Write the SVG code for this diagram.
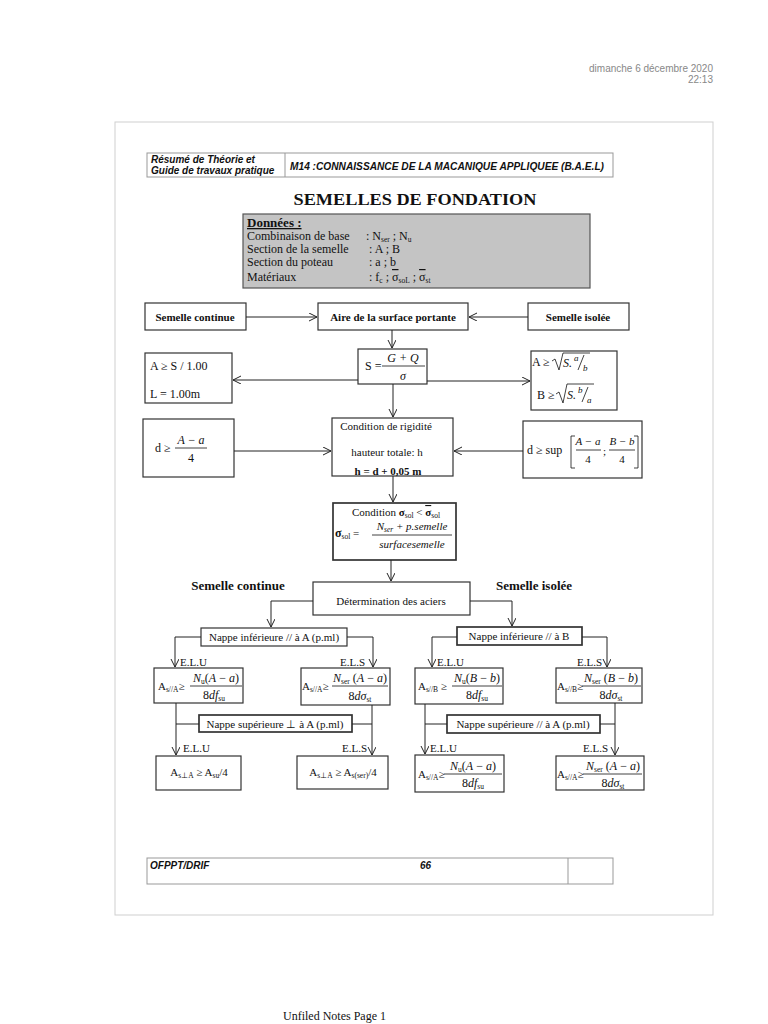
<svg xmlns="http://www.w3.org/2000/svg" width="768" height="1024" viewBox="0 0 768 1024">
<style>
text{font-family:"Liberation Serif","Times New Roman",serif;fill:#111;font-size:11px}
.s{font-family:"Liberation Sans",Arial,sans-serif}
.b{font-weight:bold}
.i{font-style:italic}
.m{text-anchor:middle}
.f12{font-size:12px}
.sb{font-size:7.5px}
.box{fill:#fff;stroke:#333;stroke-width:1.2}
.bx2{fill:#fff;stroke:#333;stroke-width:1.7}
.c{fill:none;stroke:#222;stroke-width:1}
.fl{stroke:#111;stroke-width:0.8}
.lbl{font-size:11px}
</style>
<defs>
<marker id="ah" markerWidth="10" markerHeight="10" refX="8" refY="4" orient="auto" markerUnits="userSpaceOnUse"><path d="M0,0 L8,4 L0,8" fill="none" stroke="#222" stroke-width="1"/></marker>
</defs>
<rect x="0" y="0" width="768" height="1024" fill="#fff"/>

<g id="datetime">
<text class="s" x="713" y="72" style="fill:#888;font-size:10px" text-anchor="end">dimanche 6 décembre  2020</text>
<text class="s" x="713" y="83" style="fill:#888;font-size:10px" text-anchor="end">22:13</text>
</g>

<rect id="page" x="115" y="122" width="598" height="793" fill="none" stroke="#cfcfcf" stroke-width="1"/>

<g id="header">
<rect x="147" y="153" width="466" height="24" fill="#fff" stroke="#999" stroke-width="1"/>
<line x1="285" y1="153" x2="285" y2="177" stroke="#999" stroke-width="1"/>
<text class="s b i" x="151" y="163" style="font-size:10px">Résumé de Théorie et</text>
<text class="s b i" x="151" y="174" style="font-size:10px">Guide de travaux pratique</text>
<text class="s b i" x="290" y="170" style="font-size:10px" textLength="314" lengthAdjust="spacingAndGlyphs">M14 :CONNAISSANCE DE LA MACANIQUE APPLIQUEE (B.A.E.L)</text>
</g>

<text id="title" class="b m" x="415" y="205" style="font-size:17px" textLength="243" lengthAdjust="spacingAndGlyphs">SEMELLES DE FONDATION</text>

<g id="donnees">
<rect x="243" y="214" width="347" height="74" fill="#c4c4c4" stroke="#555" stroke-width="1.2"/>
<text class="b" x="247" y="227" style="font-size:13px;text-decoration:underline">Données :</text>
<text class="f12" x="247" y="240">Combinaison de base</text>
<text class="f12" x="366" y="240">: N<tspan class="sb" dy="1.5">ser</tspan><tspan dy="-1.5"> ; N</tspan><tspan class="sb" dy="1.5">u</tspan></text>
<text class="f12" x="247" y="253">Section de la semelle</text>
<text class="f12" x="369" y="253">:  A ; B</text>
<text class="f12" x="247" y="266">Section du poteau</text>
<text class="f12" x="369" y="266">:  a ; b</text>
<text class="f12" x="247" y="281">Matériaux</text>
<text class="f12" x="369" y="281">:  f<tspan class="sb" dy="1.5">c</tspan><tspan dy="-1.5"> ;  </tspan><tspan style="text-decoration:overline">σ</tspan><tspan class="sb" dy="1.5">soL</tspan><tspan dy="-1.5"> ; </tspan><tspan style="text-decoration:overline">σ</tspan><tspan class="sb" dy="1.5">st</tspan></text>
</g>

<g id="semelle-continue-top">
<rect class="box" x="145" y="303" width="101" height="27"/>
<text class="b m" x="195" y="321">Semelle continue</text>
</g>
<g id="aire">
<rect class="box" x="318" y="303" width="150" height="27"/>
<text class="b m" x="393" y="321">Aire de la surface portante</text>
</g>
<g id="semelle-isolee-top">
<rect class="box" x="528" y="303" width="101" height="27"/>
<text class="b m" x="578" y="321">Semelle isolée</text>
</g>

<g id="s-box">
<rect class="box" x="358" y="349" width="69" height="35"/>
<text class="f12" x="365" y="370">S =</text>
<text class="f12 i m" x="403" y="362">G + Q</text>
<line class="fl" x1="382" y1="366" x2="425" y2="366"/>
<text class="f12 i m" x="403" y="380">σ</text>
</g>

<g id="continue-dims">
<rect class="box" x="145" y="353" width="87" height="50"/>
<text class="f12" x="150" y="370">A ≥ S / 1.00</text>
<text class="f12" x="150" y="398">L = 1.00m</text>
</g>

<g id="isolee-dims">
<rect class="box" x="531" y="351" width="86" height="59"/>
<text class="f12" x="532" y="366">A ≥</text>
<path d="M552,361 L555,359 L559,370 L563,353 L590,353" fill="none" stroke="#111" stroke-width="0.8"/>
<text class="f12 i" x="563" y="367">S.</text>
<text class="i" x="574" y="361" style="font-size:9px">a</text>
<line x1="578" y1="370" x2="584" y2="355" stroke="#111" stroke-width="0.8"/>
<text class="i" x="583" y="371" style="font-size:9px">b</text>
<text class="f12" x="537" y="399">B ≥</text>
<path d="M556,394 L559,392 L563,403 L567,384 L594,384" fill="none" stroke="#111" stroke-width="0.8"/>
<text class="f12 i" x="567" y="399">S.</text>
<text class="i" x="578" y="393" style="font-size:9px">b</text>
<line x1="582" y1="402" x2="588" y2="387" stroke="#111" stroke-width="0.8"/>
<text class="i" x="587" y="403" style="font-size:9px">a</text>
</g>

<g id="d-left">
<rect class="box" x="143" y="419" width="91" height="58"/>
<text class="f12" x="155" y="452">d ≥</text>
<text class="f12 i m" x="191" y="444">A − a</text>
<line class="fl" x1="175" y1="448" x2="207" y2="448"/>
<text class="f12 m" x="191" y="462">4</text>
</g>

<g id="rigidite">
<rect class="box" x="332" y="418" width="121" height="58"/>
<text class="m" x="386" y="430">Condition de rigidité</text>
<text class="m" x="387" y="456">hauteur totale: h</text>
<text class="b m" x="388" y="475">h = d + 0,05 m</text>
</g>

<g id="d-right">
<rect class="box" x="523" y="421" width="119" height="57"/>
<text class="f12" x="527" y="454">d ≥ sup</text>
<path d="M575,436 L571,436 L571,468 L575,468" fill="none" stroke="#111" stroke-width="0.8"/>
<text class="i m" x="588" y="445">A − a</text>
<line class="fl" x1="576" y1="450" x2="601" y2="450"/>
<text class="m" x="588" y="463">4</text>
<text x="603" y="455">;</text>
<text class="i m" x="622" y="445">B − b</text>
<line class="fl" x1="609" y1="450" x2="635" y2="450"/>
<text class="m" x="622" y="463">4</text>
<path d="M634,436 L638,436 L638,468 L634,468" fill="none" stroke="#111" stroke-width="0.8"/>
</g>

<g id="sigma-sol">
<rect class="bx2" x="333" y="503" width="123" height="57"/>
<text class="m" x="396" y="516">Condition <tspan class="b">σ</tspan><tspan class="sb" dy="2">sol</tspan><tspan dy="-2"> &lt; </tspan><tspan class="b" style="text-decoration:overline">σ</tspan><tspan class="sb" dy="2">sol</tspan></text>
<text x="335" y="537"><tspan class="b f12">σ</tspan><tspan class="sb" dy="2">sol</tspan><tspan dy="-2"> =</tspan></text>
<text class="i m" x="412" y="530">N<tspan class="sb" dy="2">ser</tspan><tspan dy="-2">  + p.semelle</tspan></text>
<line class="fl" x1="372" y1="535" x2="452" y2="535"/>
<text class="i m" x="412" y="548">surfacesemelle</text>
</g>

<text id="lbl-continue" class="b m" x="238" y="590" style="font-size:13px">Semelle continue</text>
<text id="lbl-isolee" class="b m" x="534" y="590" style="font-size:13px">Semelle isolée</text>

<g id="determination">
<rect class="box" x="313" y="582" width="157" height="33"/>
<text class="m" x="391" y="605">Détermination des aciers</text>
</g>

<g id="nappe-inf-a">
<rect class="box" x="201" y="628" width="146" height="18"/>
<text class="m" x="274" y="641">Nappe inférieure // à A (p.ml)</text>
</g>
<g id="nappe-inf-b">
<rect class="bx2" x="457" y="627" width="125" height="18"/>
<text class="m" x="519" y="640">Nappe inférieure // à B</text>
</g>

<g id="elu-a">
<rect class="box" x="154" y="668" width="89" height="35"/>
<text x="158" y="690">A<tspan class="sb" dy="2">s//A</tspan><tspan dy="-2">≥</tspan></text>
<text class="f12 m" x="216" y="682"><tspan class="i">N</tspan><tspan class="sb" dy="2">u</tspan><tspan dy="-2">(</tspan><tspan class="i">A</tspan> − <tspan class="i">a</tspan>)</text>
<line class="fl" x1="190" y1="686" x2="242" y2="686"/>
<text class="f12 m" x="214" y="699">8<tspan class="i">df</tspan><tspan class="sb" dy="2">su</tspan></text>
</g>
<g id="els-a">
<rect class="box" x="301" y="668" width="89" height="37"/>
<text x="302" y="690">A<tspan class="sb" dy="2">s//A</tspan><tspan dy="-2">≥</tspan></text>
<text class="f12 m" x="360" y="682"><tspan class="i">N</tspan><tspan class="sb" dy="2">ser</tspan><tspan dy="-2"> (</tspan><tspan class="i">A</tspan> − <tspan class="i">a</tspan>)</text>
<line class="fl" x1="332" y1="686" x2="388" y2="686"/>
<text class="f12 m" x="360" y="700">8<tspan class="i">dσ</tspan><tspan class="sb" dy="2">st</tspan></text>
</g>
<g id="elu-b">
<rect class="box" x="415" y="668" width="88" height="36"/>
<text x="418" y="690">A<tspan class="sb" dy="2">s//B</tspan><tspan dy="-2"> ≥</tspan></text>
<text class="f12 m" x="477" y="682"><tspan class="i">N</tspan><tspan class="sb" dy="2">u</tspan><tspan dy="-2">(</tspan><tspan class="i">B</tspan> − <tspan class="i">b</tspan>)</text>
<line class="fl" x1="452" y1="686" x2="502" y2="686"/>
<text class="f12 m" x="477" y="699">8<tspan class="i">df</tspan><tspan class="sb" dy="2">su</tspan></text>
</g>
<g id="els-b">
<rect class="box" x="556" y="668" width="86" height="35"/>
<text x="557" y="690">A<tspan class="sb" dy="2">s//B</tspan><tspan dy="-2">≥</tspan></text>
<text class="f12 m" x="611" y="682"><tspan class="i">N</tspan><tspan class="sb" dy="2">ser</tspan><tspan dy="-2"> (</tspan><tspan class="i">B</tspan> − <tspan class="i">b</tspan>)</text>
<line class="fl" x1="582" y1="686" x2="641" y2="686"/>
<text class="f12 m" x="611" y="699">8<tspan class="i">dσ</tspan><tspan class="sb" dy="2">st</tspan></text>
</g>

<g id="nappe-sup-perp">
<rect class="bx2" x="199" y="715" width="153" height="17"/>
<text class="m" x="275" y="728">Nappe supérieure ⊥ à A (p.ml)</text>
</g>
<g id="nappe-sup-par">
<rect class="bx2" x="447" y="715" width="153" height="18"/>
<text class="m" x="523" y="728">Nappe supérieure // à A (p.ml)</text>
</g>

<g id="elu-a-bottom">
<rect class="box" x="156" y="756" width="85" height="34"/>
<text class="m" x="199" y="776">A<tspan class="sb" dy="2">s⊥A</tspan><tspan dy="-2"> ≥ A</tspan><tspan class="sb" dy="2">su</tspan><tspan dy="-2">/4</tspan></text>
</g>
<g id="els-a-bottom">
<rect class="box" x="297" y="756" width="91" height="33"/>
<text class="m" x="343" y="776">A<tspan class="sb" dy="2">s⊥A</tspan><tspan dy="-2"> ≥ A</tspan><tspan class="sb" dy="2">s(ser)</tspan><tspan dy="-2">/4</tspan></text>
</g>
<g id="elu-b-bottom">
<rect class="box" x="415" y="755" width="89" height="37"/>
<text x="418" y="778">A<tspan class="sb" dy="2">s//A</tspan><tspan dy="-2">≥</tspan></text>
<text class="f12 m" x="473" y="770"><tspan class="i">N</tspan><tspan class="sb" dy="2">u</tspan><tspan dy="-2">(</tspan><tspan class="i">A</tspan> − <tspan class="i">a</tspan>)</text>
<line class="fl" x1="444" y1="774" x2="502" y2="774"/>
<text class="f12 m" x="473" y="787">8<tspan class="i">df</tspan><tspan class="sb" dy="2">su</tspan></text>
</g>
<g id="els-b-bottom">
<rect class="box" x="556" y="756" width="88" height="34"/>
<text x="557" y="778">A<tspan class="sb" dy="2">s//A</tspan><tspan dy="-2">≥</tspan></text>
<text class="f12 m" x="613" y="770"><tspan class="i">N</tspan><tspan class="sb" dy="2">ser</tspan><tspan dy="-2"> (</tspan><tspan class="i">A</tspan> − <tspan class="i">a</tspan>)</text>
<line class="fl" x1="583" y1="774" x2="642" y2="774"/>
<text class="f12 m" x="613" y="787">8<tspan class="i">dσ</tspan><tspan class="sb" dy="2">st</tspan></text>
</g>

<g id="labels">
<text class="lbl" x="180" y="666">E.L.U</text>
<text class="lbl" x="340" y="666">E.L.S</text>
<text class="lbl" x="437" y="666">E.L.U</text>
<text class="lbl" x="577" y="666">E.L.S</text>
<text class="lbl" x="183" y="752">E.L.U</text>
<text class="lbl" x="342" y="752">E.L.S</text>
<text class="lbl" x="430" y="752">E.L.U</text>
<text class="lbl" x="583" y="752">E.L.S</text>
</g>

<g id="connectors">
<path class="c" d="M246,317 L317,317" marker-end="url(#ah)"/>
<path class="c" d="M528,317 L469,317" marker-end="url(#ah)"/>
<path class="c" d="M392,330 L392,348" marker-end="url(#ah)"/>
<path class="c" d="M358,380 L233,380" marker-end="url(#ah)"/>
<path class="c" d="M427,381 L530,381" marker-end="url(#ah)"/>
<path class="c" d="M393,384 L393,417" marker-end="url(#ah)"/>
<path class="c" d="M234,451 L331,451" marker-end="url(#ah)"/>
<path class="c" d="M523,451 L454,451" marker-end="url(#ah)"/>
<path class="c" d="M393,476 L393,502" marker-end="url(#ah)"/>
<path class="c" d="M391,560 L391,581" marker-end="url(#ah)"/>
<path class="c" d="M313,601 L271,601 L271,627" marker-end="url(#ah)"/>
<path class="c" d="M470,601 L512,601 L512,626" marker-end="url(#ah)"/>
<path class="c" d="M201,637 L175,637 L175,667" marker-end="url(#ah)"/>
<path class="c" d="M347,637 L373,637 L373,667" marker-end="url(#ah)"/>
<path class="c" d="M457,637 L432,637 L432,667" marker-end="url(#ah)"/>
<path class="c" d="M582,637 L607,637 L607,667" marker-end="url(#ah)"/>
<path class="c" d="M176,703 L176,755" marker-end="url(#ah)"/>
<path class="c" d="M176,724 L199,724"/>
<path class="c" d="M372,705 L372,755" marker-end="url(#ah)"/>
<path class="c" d="M352,724 L372,724"/>
<path class="c" d="M425,704 L425,754" marker-end="url(#ah)"/>
<path class="c" d="M425,724 L447,724"/>
<path class="c" d="M615,703 L615,755" marker-end="url(#ah)"/>
<path class="c" d="M600,724 L615,724"/>
</g>

<g id="footer">
<rect x="147" y="858" width="466" height="26" fill="#fff" stroke="#999" stroke-width="1"/>
<line x1="568" y1="858" x2="568" y2="884" stroke="#999" stroke-width="1"/>
<text class="s b i" x="150" y="869" style="font-size:10px">OFPPT/DRIF</text>
<text class="s b i" x="420" y="869" style="font-size:10px">66</text>
</g>

<text id="unfiled" x="283" y="1020" style="font-size:12px">Unfiled Notes Page 1</text>
</svg>
